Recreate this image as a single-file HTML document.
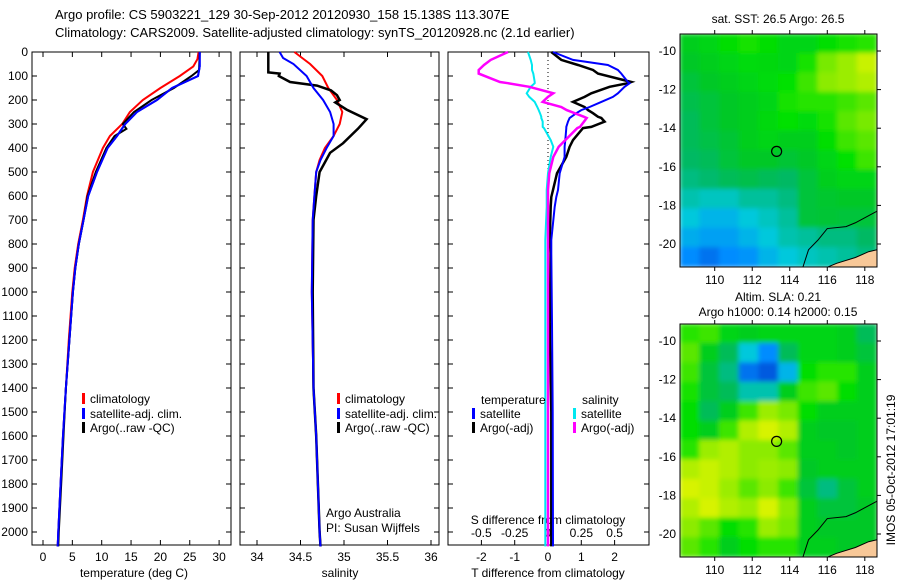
<!DOCTYPE html>
<html><head><meta charset="utf-8"><style>
html,body{margin:0;padding:0;background:#fff;}
svg{display:block;font-family:"Liberation Sans",sans-serif;}
</style></head><body>
<svg id="fig" width="900" height="580" viewBox="0 0 900 580">
<text x="55" y="19" font-size="13">Argo profile: CS 5903221_129 30-Sep-2012 20120930_158 15.138S 113.307E</text>
<text x="55" y="37" font-size="13">Climatology: CARS2009. Satellite-adjusted climatology: synTS_20120928.nc (2.1d earlier)</text>
<text x="778" y="23" font-size="12" text-anchor="middle">sat. SST: 26.5 Argo: 26.5</text>
<text x="778" y="301" font-size="12" text-anchor="middle">Altim. SLA: 0.21</text>
<text x="778" y="316" font-size="12" text-anchor="middle">Argo h1000: 0.14 h2000: 0.15</text>
<text transform="translate(895,470) rotate(-90)" font-size="12" text-anchor="middle">IMOS 05-Oct-2012 17:01:19</text>
</svg>
<script>
// ---- data ----
const tempDepth = [0,30,60,100,150,200,250,300,350,400,500,600,700,800,900,1000,1200,1400,1600,1800,2000,2060];
const tempClim  = [26.5,26.3,25.6,23.3,20,17,14.8,13.5,11.4,10.2,8.5,7.5,6.8,6.0,5.4,5.0,4.4,3.9,3.4,3.0,2.6,2.5];
const tempSat   = [26.7,26.7,26.7,26.4,22,19.4,16,14,12.6,11,9.2,7.7,6.9,6.1,5.5,5.1,4.5,3.9,3.4,3.0,2.6,2.5];
const argoDepth = [0,75,100,150,200,250,300,320,350,400,500,600,700,800,900,1000,1200,1400,1600,1800,2000,2060];
const tempArgo  = [26.7,26.6,25.3,22.3,18.5,15.5,13.6,14.2,12.2,10.8,9.0,7.6,6.9,6.1,5.5,5.1,4.5,3.9,3.5,3.1,2.7,2.6];
const salDepth  = [0,25,50,100,150,200,250,300,350,400,450,500,600,700,1000,1400,1600,1800,2000,2060];
const salClim   = [34.43,34.52,34.61,34.75,34.82,34.92,34.98,34.95,34.88,34.78,34.72,34.68,34.66,34.64,34.63,34.65,34.68,34.7,34.72,34.73];
const salSat    = [34.26,34.3,34.42,34.57,34.65,34.76,34.84,34.88,34.88,34.8,34.73,34.68,34.66,34.64,34.63,34.65,34.68,34.7,34.72,34.73];
const salArgoDepth = [0,85,90,100,125,140,160,180,200,210,240,280,320,380,420,460,500,600,700,1000,1400,1600,1800,2000,2060];
const salArgo    = [34.13,34.13,34.26,34.25,34.38,34.69,34.85,34.92,34.95,34.9,35.03,35.26,35.16,34.99,34.84,34.78,34.72,34.68,34.65,34.64,34.65,34.68,34.7,34.72,34.73];
const dDepth = [0,33,54,75,90,125,130,145,172,187,208,229,242,255,270,275,290,312,317,367,395,437,505,575,604,645,783,838,1130,1500,2060];
const dTsat  = [0.15,0.75,1.8,2.1,2.2,2.4,2.45,2.3,2.1,1.95,1.6,1.25,1.0,0.85,0.7,0.65,0.6,0.55,0.55,0.52,0.5,0.5,0.35,0.3,0.25,0.2,0.1,0.1,0.12,0.14,0.15];
const dTargo = [0.1,0.4,0.9,1.35,1.5,2.5,2.4,1.85,1.3,1.1,0.75,1.1,1.2,1.35,1.5,1.6,1.7,1.3,1.05,0.75,0.65,0.55,0.27,0.15,0.1,0.08,0.05,0.08,0.05,0.1,0.1];
const dSsat  = [-0.15,-0.13,-0.12,-0.12,-0.11,-0.1,-0.1,-0.13,-0.16,-0.14,-0.1,-0.08,-0.07,-0.06,-0.05,-0.05,-0.04,-0.04,-0.03,0.02,0.04,0.02,0,-0.01,-0.01,-0.01,-0.02,-0.02,-0.02,-0.02,-0.02];
const dSargo = [-0.3,-0.43,-0.48,-0.52,-0.52,-0.36,-0.3,-0.14,0.04,0.0,-0.04,0.1,0.14,0.2,0.27,0.29,0.27,0.24,0.22,0.13,0.08,0.04,0.01,0.0,0.0,0.0,0.0,0.0,0.0,0.0,0.0];
const tempTicks = [0,5,10,15,20,25,30];
const salTicks = [34,34.5,35,35.5,36];
const dTTicks = [-2,-1,0,1,2];
const dSTicks = [-0.5,-0.25,0,0.25,0.5];
const depthTicks = [0,100,200,300,400,500,600,700,800,900,1000,1100,1200,1300,1400,1500,1600,1700,1800,1900,2000];
const lonTicks = [110,112,114,116,118];
const latTicks = [-10,-12,-14,-16,-18,-20];
const sstGrid = [
[.6,.62,.65,.68,.65,.62,.62,.65,.68,.7],
[.58,.6,.62,.64,.63,.62,.68,.78,.82,.88],
[.55,.58,.6,.62,.64,.66,.72,.8,.82,.85],
[.52,.55,.58,.6,.62,.68,.7,.7,.72,.75],
[.5,.55,.58,.6,.63,.66,.64,.68,.75,.78],
[.5,.53,.56,.6,.62,.6,.6,.65,.72,.75],
[.48,.5,.55,.58,.58,.56,.58,.62,.66,.72],
[.45,.47,.5,.52,.5,.48,.55,.6,.62,.62],
[.4,.38,.38,.42,.42,.45,.55,.57,.58,.58],
[.35,.3,.3,.35,.38,.42,.55,.56,.55,.55],
[.28,.25,.25,.3,.35,.4,.42,.45,.45,.48],
[.2,.15,.2,.22,.3,.35,.38,.4,.42,.45]];
const slaGrid = [
[.7,.72,.62,.6,.62,.62,.62,.62,.6,.5],
[.75,.6,.5,.35,.2,.5,.62,.62,.6,.55],
[.72,.55,.45,.15,.1,.3,.65,.7,.7,.6],
[.68,.55,.5,.4,.4,.6,.72,.75,.65,.6],
[.65,.5,.6,.72,.82,.78,.65,.6,.6,.6],
[.65,.6,.72,.85,.9,.85,.6,.58,.58,.6],
[.7,.82,.85,.8,.8,.75,.6,.6,.58,.6],
[.85,.88,.85,.8,.82,.8,.58,.6,.6,.6],
[.9,.88,.82,.75,.8,.72,.55,.45,.55,.6],
[.85,.9,.85,.82,.9,.8,.6,.55,.55,.58],
[.8,.75,.65,.7,.82,.78,.6,.58,.58,.58],
[.75,.7,.6,.65,.7,.7,.6,.6,.58,.58]];
const coastLon = [114.7,115.0,115.5,116.0,117.0,117.5,118.65];
const coastLat = [-21.2,-20.3,-19.8,-19.2,-19.1,-18.9,-18.3];
const landLon = [116.0,116.5,117.5,118.2,118.65,118.65];
const landLat = [-21.2,-21.0,-20.7,-20.4,-20.3,-21.2];
const argoLon = 113.3, argoLat = -15.2;

// ---- helpers ----
const NS="http://www.w3.org/2000/svg";
const svg=document.getElementById('fig');
function mk(tag,attrs,parent){const e=document.createElementNS(NS,tag);for(const k in attrs)e.setAttribute(k,attrs[k]);(parent||svg).appendChild(e);return e;}
const yD = d => 52 + 0.24*d;
const PB = 545;
const xT = t => 43 + 5.87*t;
const xS = s => 257 + 87*(s-34);
const xDT = t => 548 + 33.3*t;
const xDS = s => 548 + 133.3*s;

function line(xs, ds, fx, color, w, name){
  const pts = xs.map((v,i)=>fx(v).toFixed(1)+','+yD(ds[i]).toFixed(1)).join(' ');
  const p = mk('polyline',{points:pts,fill:'none',stroke:color,'stroke-width':w,'stroke-linejoin':'miter'});
  
  
}
function panel(x0,x1,name){
  const r=mk('rect',{x:x0,y:52,width:x1-x0,height:PB-52,fill:'none',stroke:'#000','stroke-width':1});
  
  
}
function txt(x,y,s,anchor,size,name){
  const t=mk('text',{x:x,y:y,'font-size':size||12,'text-anchor':anchor||'start'});
  t.textContent=s;
  
  
  return t;
}
function legend(x,y,color,label,name){
  mk('rect',{x:x,y:y-10,width:3,height:11,fill:color});
  txt(x+8,y,label,'start',12,name);
}

// ---- panels ----
panel(32,231,'temperature-panel');
panel(240,439,'salinity-panel');
panel(448,649,'difference-panel');

depthTicks.forEach(d=>{
  txt(28,yD(d)+4,String(d),'end',12,'depth-tick-label');
  mk('line',{x1:32,x2:37,y1:yD(d),y2:yD(d),stroke:'#000'});
  mk('line',{x1:226,x2:231,y1:yD(d),y2:yD(d),stroke:'#000'});
  mk('line',{x1:240,x2:245,y1:yD(d),y2:yD(d),stroke:'#000'});
  mk('line',{x1:434,x2:439,y1:yD(d),y2:yD(d),stroke:'#000'});
  mk('line',{x1:448,x2:453,y1:yD(d),y2:yD(d),stroke:'#000'});
  mk('line',{x1:644,x2:649,y1:yD(d),y2:yD(d),stroke:'#000'});
});
tempTicks.forEach(t=>{
  mk('line',{x1:xT(t),x2:xT(t),y1:PB,y2:PB-5,stroke:'#000'});
  mk('line',{x1:xT(t),x2:xT(t),y1:52,y2:57,stroke:'#000'});
  txt(xT(t),561,String(t),'middle',12,'temperature-tick-label');
});
txt(134,577,'temperature (deg C)','middle',12,'temperature-axis-title');
salTicks.forEach(s=>{
  mk('line',{x1:xS(s),x2:xS(s),y1:PB,y2:PB-5,stroke:'#000'});
  mk('line',{x1:xS(s),x2:xS(s),y1:52,y2:57,stroke:'#000'});
  txt(xS(s),561,String(s),'middle',12,'salinity-tick-label');
});
txt(340,577,'salinity','middle',12,'salinity-axis-title');
dTTicks.forEach(t=>{
  mk('line',{x1:xDT(t),x2:xDT(t),y1:PB,y2:PB-5,stroke:'#000'});
  mk('line',{x1:xDT(t),x2:xDT(t),y1:52,y2:57,stroke:'#000'});
  txt(xDT(t),561,String(t),'middle',12,'t-diff-tick-label');
});
txt(548,577,'T difference from climatology','middle',12,'t-diff-axis-title');
dSTicks.forEach(s=>{
  txt(xDS(s),537,String(s),'middle',12,'s-diff-tick-label');
});
txt(548,524,'S difference from climatology','middle',12,'s-diff-axis-title');
mk('line',{x1:548,x2:548,y1:52,y2:PB,stroke:'#000','stroke-dasharray':'1,3'});

line(tempClim,tempDepth,xT,'#ff0000',2,'temp-climatology-line');
line(tempSat,tempDepth,xT,'#0000ff',2,'temp-satellite-line');
line(tempArgo,argoDepth,xT,'#000000',2,'temp-argo-line');
line(tempSat,tempDepth,xT,'#0000ff',2,'temp-satellite-line-top');
line(salClim,salDepth,xS,'#ff0000',2,'sal-climatology-line');
line(salArgo,salArgoDepth,xS,'#000000',2.5,'sal-argo-line');
line(salSat,salDepth,xS,'#0000ff',2,'sal-satellite-line');
line(dTargo,dDepth,xDT,'#000000',2.5,'t-diff-argo-line');
line(dTsat,dDepth,xDT,'#0000ff',2,'t-diff-satellite-line');
line(dSsat,dDepth,xDS,'#00e8f0',2,'s-diff-satellite-line');
line(dSargo,dDepth,xDS,'#ff00ff',2.5,'s-diff-argo-line');

legend(82,403,'#ff0000','climatology','legend-temp-climatology');
legend(82,418,'#0000ff','satellite-adj. clim.','legend-temp-satellite');
legend(82,432,'#000000','Argo(..raw -QC)','legend-temp-argo');
legend(337,403,'#ff0000','climatology','legend-sal-climatology');
legend(337,418,'#0000ff','satellite-adj. clim.','legend-sal-satellite');
legend(337,432,'#000000','Argo(..raw -QC)','legend-sal-argo');
txt(481,404,'temperature','start',12,'legend-temperature-header');
legend(472,418,'#0000ff','satellite','legend-t-diff-satellite');
legend(472,432,'#000000','Argo(-adj)','legend-t-diff-argo');
txt(582,404,'salinity','start',12,'legend-salinity-header');
legend(573,418,'#00e8f0','satellite','legend-s-diff-satellite');
legend(573,432,'#ff00ff','Argo(-adj)','legend-s-diff-argo');
txt(326,517,'Argo Australia','start',12,'credit-argo-australia');
txt(326,532,'PI: Susan Wijffels','start',12,'credit-pi');

// ---- maps ----
const stops=[[0,[0,40,190]],[0.2,[0,140,255]],[0.35,[0,200,220]],[0.48,[0,185,100]],[0.58,[0,200,40]],[0.66,[0,225,0]],[0.8,[140,235,0]],[0.92,[230,245,0]],[1,[245,225,0]]];
function cmap(v){
  for(let i=1;i<stops.length;i++){if(v<=stops[i][0]){const a=stops[i-1],b=stops[i];const f=(v-a[0])/(b[0]-a[0]);const c=a[1].map((x,k)=>Math.round(x+(b[1][k]-x)*f));return `rgb(${c[0]},${c[1]},${c[2]})`;}}
  return 'rgb(245,225,0)';
}
const defs=mk('defs',{});
const flt=mk('filter',{id:'blur',x:'-5%',y:'-5%',width:'110%',height:'110%'},defs);
mk('feGaussianBlur',{stdDeviation:'2.5'},flt);
function drawMap(top,bottom,grid,name,lat10y,lat20y){
  const L=680,R=877,lonL=108.15,lonR=118.65;
  const xL=lon=>L+(lon-lonL)*(R-L)/(lonR-lonL);
  const yL=lat=>lat10y+(-10-lat)*(lat20y-lat10y)/10;
  const cp=mk('clipPath',{id:'clip-'+name},defs);
  mk('rect',{x:L,y:top,width:R-L,height:bottom-top},cp);
  const g=mk('g',{'clip-path':'url(#clip-'+name+')'});
  
  
  const gi=mk('g',{filter:'url(#blur)'},g);
  const rows=grid.length, cols=grid[0].length;
  const cw=(R-L)/cols, ch=(bottom-top)/rows;
  grid.forEach((row,r)=>row.forEach((v,c)=>{
    const cell=mk('rect',{x:L+c*cw-0.5,y:top+r*ch-0.5,width:cw+1,height:ch+1,fill:cmap(v)},gi);
    
    
  }));
  const land=mk('polygon',{points:landLon.map((lo,i)=>xL(lo)+','+yL(landLat[i])).join(' '),fill:'#f8c898'},g);
  
  
  const coast=mk('polyline',{points:coastLon.map((lo,i)=>xL(lo)+','+yL(coastLat[i])).join(' '),fill:'none',stroke:'#000','stroke-width':1},g);
  
  
  mk('polyline',{points:landLon.slice(0,5).map((lo,i)=>xL(lo)+','+yL(landLat[i])).join(' '),fill:'none',stroke:'#000','stroke-width':1},g);
  const c=mk('circle',{cx:xL(argoLon),cy:yL(argoLat),r:5,fill:'none',stroke:'#000','stroke-width':1.2});
  
  
  mk('rect',{x:L,y:top,width:R-L,height:bottom-top,fill:'none',stroke:'#000','stroke-width':1});
  lonTicks.forEach(lo=>{
    mk('line',{x1:xL(lo),x2:xL(lo),y1:top-4,y2:top,stroke:'#000'});
    mk('line',{x1:xL(lo),x2:xL(lo),y1:bottom,y2:bottom+4,stroke:'#000'});
    txt(xL(lo),bottom+17,String(lo),'middle',12,'map-lon-tick-label');
  });
  latTicks.forEach(la=>{
    mk('line',{x1:R,x2:R+4,y1:yL(la),y2:yL(la),stroke:'#000'});
    txt(676,yL(la)+4,String(la),'end',12,'map-lat-tick-label');
  });
}
drawMap(34,267,sstGrid,'sst-map',51,244);
drawMap(324,557,slaGrid,'sla-map',341,534);
</script>
</body></html>
